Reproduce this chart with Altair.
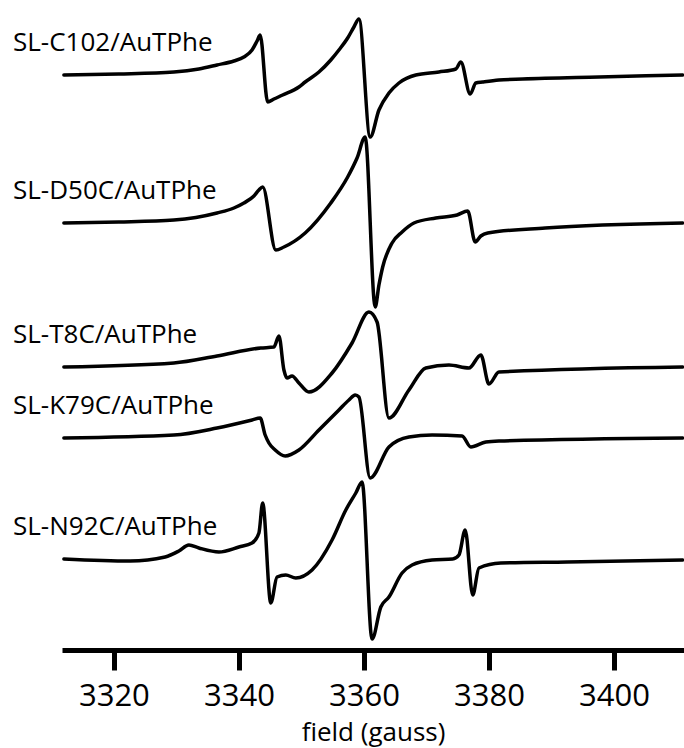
import altair as alt
import pandas as pd

# ---- data (field in gauss, signal relative to each trace baseline) ----
names = ["SL-C102/AuTPhe", "SL-D50C/AuTPhe", "SL-T8C/AuTPhe", "SL-K79C/AuTPhe", "SL-N92C/AuTPhe"]
offsets = [575, 427, 283, 212, 91]

c102_field = [3312.0, 3320.8, 3329.6, 3333.6, 3336.5, 3339.2, 3340.8, 3342.1, 3342.9, 3343.4,
              3344.6, 3345.6, 3347.0, 3349.6, 3350.6, 3352.8, 3354.7, 3356.0, 3357.4, 3358.4, 3359.2,
              3361.0, 3362.4, 3364.0, 3365.6, 3368.3, 3372.0, 3374.7, 3375.5,
              3377.0, 3377.9, 3379.0, 3381.6, 3385.4, 3397.6, 3411.0]
c102_signal = [0, 1, 3, 6, 10, 14, 18, 25, 34, 40,
               -27, -24, -20, -12, -7, 3, 15, 25, 37, 48, 56,
               -62, -35, -18, -8, 0, 3, 6, 13,
               -19, -8, -7, -5, -4, -2, 0]

d50c_field = [3312.0, 3320.8, 3329.6, 3336.5, 3339.2, 3340.8, 3342.4, 3343.2, 3343.8,
              3345.9, 3347.2, 3350.6, 3354.7, 3357.4, 3358.9, 3360.2,
              3361.8, 3362.4, 3363.0, 3364.5, 3366.1, 3368.0, 3371.5, 3374.9, 3376.6,
              3377.8, 3378.7, 3379.8, 3389.0, 3411.0]
d50c_signal = [0, 1, 3, 10, 15, 20, 27, 33, 36,
               -27, -24, -10, 20, 46, 65, 86,
               -84, -62, -44, -20, -9, 0, 5, 8, 12,
               -19, -13, -10, -5, 0]

t8c_field = [3312.0, 3329.6, 3336.5, 3343.5, 3345.6, 3346.4, 3347.2, 3347.7, 3348.5, 3349.6,
             3351.2, 3354.9, 3358.1, 3360.8, 3362.1, 3364.0, 3367.2, 3369.9, 3373.6,
             3376.8, 3378.7, 3380.0, 3381.6, 3411.0]
t8c_signal = [0, 4, 11, 19, 20, 31, -3, -11, -9, -16,
              -25, -6, 24, 55, 45, -51, -23, -1, 2,
              -1, 12, -17, -5, 0]

k79c_field = [3312.0, 3329.6, 3336.5, 3342.1, 3343.4, 3344.2, 3344.8, 3345.8, 3347.4, 3349.6,
              3352.8, 3356.0, 3357.6, 3358.6, 3359.2, 3361.0, 3364.0, 3367.2, 3370.9,
              3375.7, 3377.1, 3379.5, 3381.6, 3411.0]
k79c_signal = [0, 3, 10, 18, 20, 3, -5, -12, -18, -12,
               8, 28, 38, 43, 41, -40, -9, 1, 3,
               2, -9, -4, -3, 0]

n92c_field = [3312.0, 3322.6, 3328.2, 3330.4, 3332.0, 3333.6, 3336.8, 3340.0, 3342.1, 3343.2, 3343.8,
              3345.1, 3346.1, 3347.5, 3349.1, 3351.7, 3354.9, 3357.1, 3358.7, 3359.7,
              3361.3, 3362.7, 3364.0, 3366.1, 3367.7, 3370.9, 3374.2, 3375.2, 3376.2,
              3377.4, 3378.4, 3381.9, 3392.5, 3411.0]
n92c_signal = [0, -2, 2, 8, 14, 11, 7, 12, 16, 26, 56,
               -44, -18, -16, -19, -11, 19, 49, 66, 77,
               -80, -48, -38, -14, -6, -1, 0, 4, 29,
               -36, -9, -4, -3, -1]

fields = [c102_field, d50c_field, t8c_field, k79c_field, n92c_field]
signals = [c102_signal, d50c_signal, t8c_signal, k79c_signal, n92c_signal]

rows = []
for name, off, fs, ss in zip(names, offsets, fields, signals):
    for i, (f, s) in enumerate(zip(fs, ss)):
        rows.append({"sample": name, "order": i, "field": f, "value": off + s})
df = pd.DataFrame(rows)

labels = pd.DataFrame({"sample": names, "value": offsets})

x_scale = alt.Scale(domain=[3311.7, 3411.2], nice=False, zero=False)
y_scale = alt.Scale(domain=[0, 650], nice=False, zero=False)

lines = alt.Chart(df).mark_line(
    color="black", strokeWidth=3.5, interpolate="monotone", strokeJoin="round", strokeCap="round"
).encode(
    x=alt.X("field:Q", scale=x_scale,
            axis=alt.Axis(title="field (gauss)", values=[3320, 3340, 3360, 3380, 3400],
                          format="d", grid=False)),
    y=alt.Y("value:Q", scale=y_scale, axis=None),
    detail="sample:N",
    order="order:Q",
)

text = alt.Chart(labels).mark_text(
    align="left", baseline="alphabetic", dy=-24, fontSize=26, font="Open Sans", color="black"
).encode(
    x=alt.value(-49),
    y=alt.Y("value:Q", scale=y_scale, axis=None),
    text="sample:N",
)

chart = alt.layer(lines, text).properties(
    width=622, height=650,
    autosize=alt.AutoSizeParams(type="none"),
    padding={"left": 62, "top": 0, "right": 0, "bottom": 98},
    background="white",
).configure_view(stroke=None).configure_axis(
    domainColor="black", domainWidth=5, tickColor="black", tickWidth=5, tickSize=20,
    labelFont="Open Sans", labelFontSize=31, labelColor="black", labelBaseline="alphabetic",
    labelPadding=35, labelFlush=False,
    titleFont="Open Sans", titleFontSize=26, titleFontWeight="normal", titleColor="black",
    titleBaseline="alphabetic", titleY=90,
)

chart.save("out.html", embed_options={"renderer": "svg", "actions": False})
